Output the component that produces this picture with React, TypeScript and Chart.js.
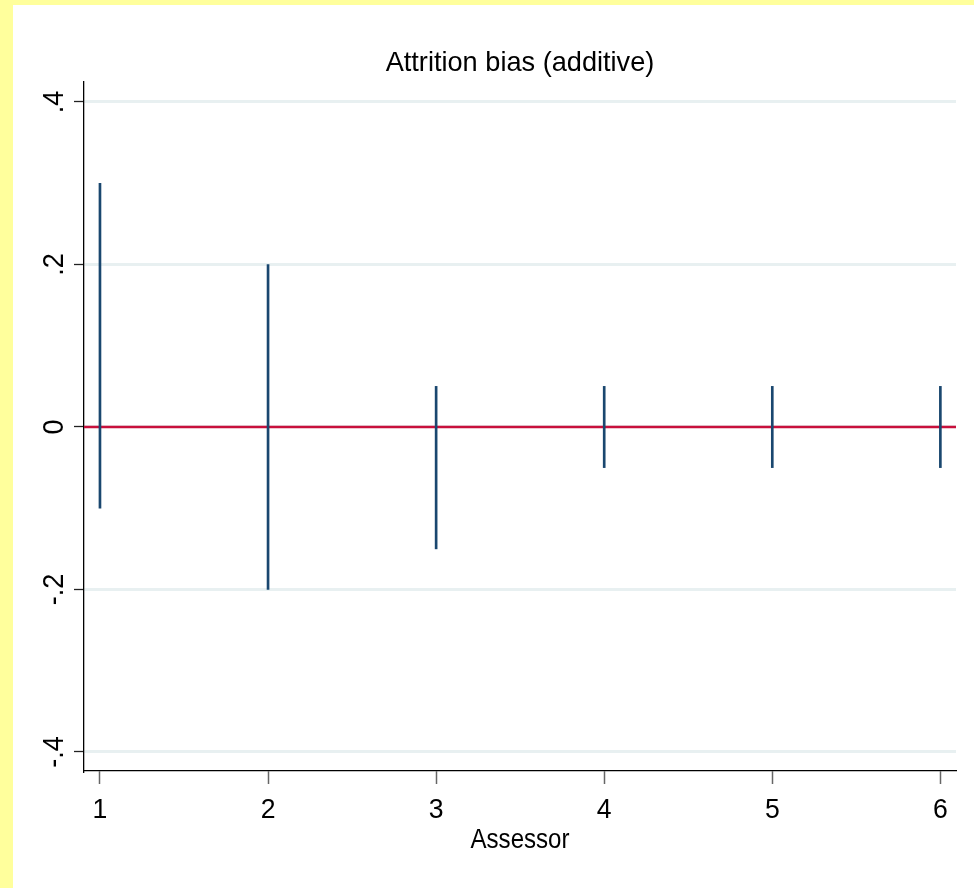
import React, { useEffect, useRef } from "react";
import { Chart, registerables } from "chart.js";

Chart.register(...registerables);

const titleText = "Attrition bias (additive)";
const xAxisTitle = "Assessor";
const assessors = [1, 2, 3, 4, 5, 6];
const upperBounds = [0.3, 0.2, 0.05, 0.05, 0.05, 0.05];
const lowerBounds = [-0.1, -0.2, -0.15, -0.05, -0.05, -0.05];
const xTickValues = [1, 2, 3, 4, 5, 6];
const xTickLabels = ["1", "2", "3", "4", "5", "6"];
const yTickValues = [-0.4, -0.2, 0, 0.2, 0.4];
const yTickLabels = ["-.4", "-.2", "0", ".2", ".4"];
const referenceValue = 0;

const FONT = "'Liberation Sans', Arial, sans-serif";
const FONT_SIZE = 28;

function scaledText(ctx: any, text: string, x: number, y: number, sx: number) {
  ctx.save();
  ctx.translate(x, y);
  ctx.scale(sx, 1);
  ctx.fillText(text, 0, 0);
  ctx.restore();
}

const backgroundPlugin = {
  id: "bgPlugin",
  beforeDraw(chart: any) {
    const { ctx, width, height } = chart;
    ctx.save();
    ctx.fillStyle = "#ffff9c";
    ctx.fillRect(0, 0, width, height);
    ctx.fillStyle = "#ffffff";
    ctx.fillRect(13, 5, width - 13, height - 5);
    ctx.restore();
  },
};

const refLinePlugin = {
  id: "refLine",
  beforeDatasetsDraw(chart: any) {
    const { ctx, chartArea, scales } = chart;
    const y = scales.y.getPixelForValue(referenceValue);
    ctx.save();
    ctx.strokeStyle = "#c8103c";
    ctx.lineWidth = 2.6;
    ctx.beginPath();
    ctx.moveTo(chartArea.left, y);
    ctx.lineTo(chartArea.right, y);
    ctx.stroke();
    ctx.restore();
  },
};

const textPlugin = {
  id: "texts",
  afterDraw(chart: any) {
    const { ctx, chartArea, scales } = chart;
    const cx = (chartArea.left + chartArea.right) / 2;
    ctx.save();
    ctx.fillStyle = "#000000";
    ctx.font = `${FONT_SIZE}px ${FONT}`;
    ctx.textBaseline = "alphabetic";
    ctx.textAlign = "center";
    scaledText(ctx, titleText, cx, 71, 0.97);
    xTickValues.forEach((v, i) => {
      scaledText(ctx, xTickLabels[i], scales.x.getPixelForValue(v), 818, 0.95);
    });
    scaledText(ctx, xAxisTitle, cx, 848, 0.86);
    ctx.font = `30px ${FONT}`;
    yTickValues.forEach((v, i) => {
      const y = scales.y.getPixelForValue(v);
      ctx.save();
      ctx.translate(63, y);
      ctx.rotate(-Math.PI / 2);
      scaledText(ctx, yTickLabels[i], 0, 0, 0.9);
      ctx.restore();
    });
    ctx.restore();
  },
};

export default function App() {
  const canvasRef = useRef<HTMLCanvasElement | null>(null);

  useEffect(() => {
    document.body.style.margin = "0";
    const canvas = canvasRef.current;
    if (!canvas) return;
    const chart = new Chart(canvas, {
      type: "bar",
      data: {
        datasets: [
          {
            label: "CI",
            data: assessors.map((a, i) => ({ x: a, y: [lowerBounds[i], upperBounds[i]] })) as any,
            backgroundColor: "#1a476f",
            borderWidth: 0,
            barThickness: 2,
          } as any,
        ],
      },
      options: {
        responsive: false,
        animation: false,
        devicePixelRatio: 1,
        layout: { padding: { left: 0, top: 82, right: 18, bottom: 0 } },
        plugins: {
          legend: { display: false },
          title: { display: false },
          tooltip: { enabled: false },
        },
        scales: {
          x: {
            type: "linear",
            offset: false,
            min: 0.905,
            max: 6.093,
            afterBuildTicks(scale: any) {
              scale.ticks = xTickValues.map((v) => ({ value: v }));
            },
            afterFit(scale: any) {
              scale.height = 117;
            },
            ticks: { display: false },
            grid: {
              offset: false,
              drawOnChartArea: false,
              drawTicks: true,
              tickLength: 13,
              tickColor: "#666666",
              tickWidth: 1.5,
            },
            border: { display: true, color: "#000000", width: 1.3 },
          },
          y: {
            type: "linear",
            min: -0.4234,
            max: 0.4246,
            afterBuildTicks(scale: any) {
              scale.ticks = yTickValues.map((v) => ({ value: v }));
            },
            afterFit(scale: any) {
              scale.width = 84;
            },
            ticks: { display: false },
            grid: {
              color: "#e8f0f1",
              lineWidth: 3,
              drawTicks: true,
              tickLength: 10,
              tickColor: "#222222",
              tickWidth: 1.3,
            },
            border: { display: true, color: "#000000", width: 1.3 },
          },
        },
      } as any,
      plugins: [backgroundPlugin, refLinePlugin, textPlugin],
    });
    return () => chart.destroy();
  }, []);

  return (
    <div style={{ width: 974, height: 888 }}>
      <canvas ref={canvasRef} width={974} height={888} style={{ display: "block" }} />
    </div>
  );
}
